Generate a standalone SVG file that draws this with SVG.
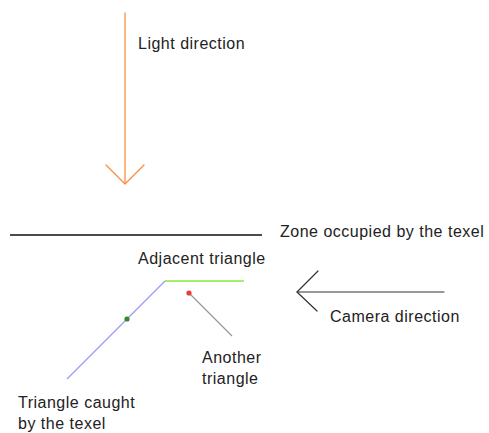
<svg xmlns="http://www.w3.org/2000/svg" width="489" height="433" viewBox="0 0 489 433">
<style>
text{font-family:"Liberation Sans",Arial,sans-serif;font-size:16px;fill:#222;letter-spacing:0.5px}
.arrow{fill:none;stroke-linecap:round;stroke-linejoin:round}
</style>
<rect width="489" height="433" fill="#fff"/>
<g id="connectors">
<g id="light-arrow" class="arrow" stroke="#ff8c42" stroke-width="1.3">
<line x1="125" y1="13" x2="125" y2="183"/>
<polyline points="106,165 125,184 144,165"/>
</g>
<g id="camera-arrow" class="arrow" stroke="#333" stroke-width="1.2">
<line x1="297" y1="292" x2="444" y2="292"/>
<polyline points="318,271 297,292 317,311"/>
</g>
<line id="pointer" x1="189" y1="293" x2="232" y2="336" stroke="#999" stroke-width="1.3"/>
</g>
<g id="texel-zone">
<line x1="10" y1="235" x2="262" y2="235" stroke="#111" stroke-width="1.4"/>
<text x="280" y="237">Zone occupied by the texel</text>
</g>
<g id="light-label"><text x="138" y="49">Light direction</text></g>
<g id="adjacent-triangle">
<line x1="165" y1="281" x2="244" y2="281" stroke="#a6ef6a" stroke-width="2"/>
<text x="138" y="264">Adjacent triangle</text>
</g>
<g id="caught-triangle">
<line x1="165" y1="281" x2="67" y2="379" stroke="#9d9cf4" stroke-width="1.3"/>
<circle cx="127" cy="319" r="2.6" fill="#2e8b2e"/>
<text x="18" y="408">Triangle caught</text>
<text x="18" y="429">by the texel</text>
</g>
<g id="another-triangle">
<circle cx="189" cy="293" r="2.6" fill="#e83c3c"/>
<text x="202" y="363">Another</text>
<text x="202" y="384">triangle</text>
</g>
<g id="camera-label"><text x="330" y="322">Camera direction</text></g>
</svg>
